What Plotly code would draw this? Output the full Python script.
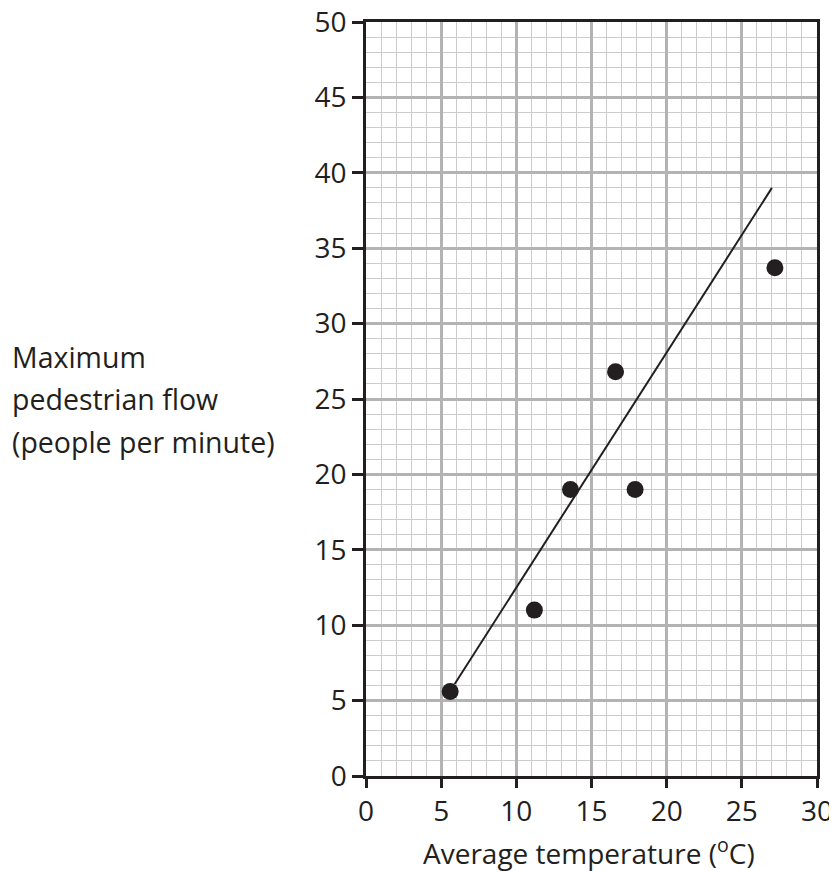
import plotly.graph_objects as go

temperature = [5.6, 11.2, 13.6, 16.6, 17.9, 27.2]
flow = [5.6, 11.0, 19.0, 26.8, 19.0, 33.7]
fit_x = [5.9, 27.0]
fit_y = [6.1, 39.0]
ticks = [0, 5, 10, 15, 20, 25, 30, 35, 40, 45, 50]
y_title_lines = ["Maximum", "pedestrian flow", "(people per minute)"]

FONT = "Open Sans, Noto Sans, sans-serif"
INK = "#231f20"
FS = 28

fig = go.Figure()
fig.add_trace(go.Scatter(x=fit_x, y=fit_y, mode="lines",
                         line=dict(color=INK, width=2), showlegend=False, hoverinfo="skip"))
fig.add_trace(go.Scatter(x=temperature, y=flow, mode="markers",
                         marker=dict(color=INK, size=17), showlegend=False))

axis_common = dict(
    showline=True, linecolor=INK, linewidth=2.5, mirror=True,
    ticks="outside", tickwidth=2.5, tickcolor=INK,
    showgrid=True, gridcolor="#b3b3b3", gridwidth=2.5,
    minor=dict(dtick=1, showgrid=True, gridcolor="#cccccc", gridwidth=1.2, ticks=""),
    zeroline=False, tickfont=dict(family=FONT, size=FS, color=INK),
    tick0=0, ticklabeloverflow="allow", automargin=False,
)

fig.update_xaxes(range=[0, 30], dtick=5, ticklen=9, **axis_common)
fig.update_yaxes(range=[0, 50], tickvals=ticks, ticklen=11, **axis_common)

fig.add_annotation(text="Average temperature (<sup>o</sup>C)",
                   xref="paper", yref="paper", x=0.495, y=-0.100, xanchor="center", yanchor="middle",
                   showarrow=False, font=dict(family=FONT, size=28, color=INK))

for i, line in enumerate(y_title_lines):
    fig.add_annotation(text=line, xref="paper", yref="paper",
                       x=-0.79, y=0.556 - i * 0.0563, xanchor="left", yanchor="middle",
                       showarrow=False, font=dict(family=FONT, size=28.5, color=INK))

fig.update_layout(width=837, height=871, margin=dict(l=358, r=28, t=14, b=103),
                  plot_bgcolor="white", paper_bgcolor="white")

fig.write_html("out.html")
